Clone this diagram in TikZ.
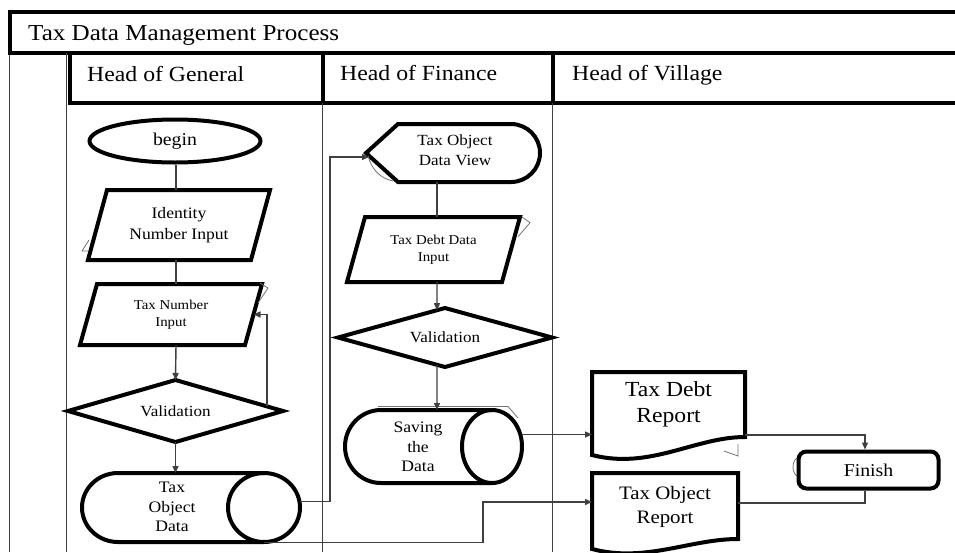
\documentclass[tikz,border=0pt]{standalone}
\usepackage{fontspec}
\setmainfont{Liberation Serif}[FakeStretch=1.1]
\usetikzlibrary{calc,shapes.geometric,arrows.meta}
\newcommand\paragram[2]{\draw[shp] ($(#1.north west)+(#2,0)$) -- ($(#1.north east)+(#2,0)$) -- ($(#1.south east)+(-#2,0)$) -- ($(#1.south west)+(-#2,0)$) -- cycle;}
\begin{document}
\begin{tikzpicture}[x=1pt,y=-1pt,
  shp/.style={draw=black,line width=4pt,line join=miter},
  frm/.style={draw=black,line width=4pt},
  lane/.style={draw=black!75,line width=1.6pt},
  conn/.style={draw=black!75,line width=1.4pt},
  arr/.style={conn,-{Triangle[length=7pt,width=6pt]}},
  art/.style={draw=black!55,line width=0.8pt},
  anc/.style={draw=none,inner sep=0pt,outer sep=0pt,rectangle,align=center},
  txt/.style={inner sep=0pt,align=center},
  hfont/.style={font=\fontsize{21.6}{26}\selectfont}]
\useasboundingbox (0,0) rectangle (955,552);
\fill[white] (0,0) rectangle (955,552);
% frame
\draw[frm] (8,12) -- (955,12);
\draw[frm] (10,10) -- (10,54);
\draw[lane] (9.5,54) -- (9.5,552);
\draw[frm] (8,52.5) -- (955,52.5);
\draw[lane] (66.5,52.5) -- (66.5,552);
\draw[frm] (69.5,52.5) -- (69.5,103);
\draw[frm] (67.5,103) -- (955,103);
\draw[frm] (322.5,52.5) -- (322.5,103);
\draw[lane] (322.5,103) -- (322.5,552);
\draw[frm] (552.5,52.5) -- (552.5,103);
\draw[lane] (552.5,103) -- (552.5,552);
% titles
\node[anchor=base west,inner sep=0pt,font=\fontsize{22.8}{27}\selectfont] (title) at (28,40) {Tax Data Management Process};
\node[anchor=base west,inner sep=0pt,hfont] (hg) at (87,81) {Head of General};
\node[anchor=base west,inner sep=0pt,hfont] (hf) at (340,80) {Head of Finance};
\node[anchor=base west,inner sep=0pt,hfont] (hv) at (572,80) {Head of Village};
% columns
\coordinate (c1) at (176,0);
\coordinate (c2) at (437,0);
\coordinate (c3) at (865,0);
% begin
\node[ellipse,shp,minimum width=171pt,minimum height=43pt,inner sep=0pt,font=\fontsize{18}{22}\selectfont] (begin) at (175,141) {begin};
% identity
\node[anc,minimum width=163pt,minimum height=70pt,font=\fontsize{16}{21}\selectfont] (idn) at (179,225) {Identity\\Number Input};
\paragram{idn}{9.5}
\draw[art] (89,240) -- (82,251) -- (88,251);
% tax number
\node[anc,minimum width=165pt,minimum height=61pt,font=\fontsize{13.5}{17}\selectfont] (tni) at (171,314.5) {Tax Number\\Input};
\paragram{tni}{8.5}
\draw[art] (260,283) -- (268,288) -- (258,303);
% validation 1
\node[anc,minimum width=215pt,minimum height=62pt,font=\fontsize{15.5}{19}\selectfont] (val1) at (175.5,411) {Validation};
\draw[shp] (val1.north) -- (val1.east) -- (val1.south) -- (val1.west) -- cycle;
% tax object data
\node[anc,minimum width=218pt,minimum height=69pt] (tod) at (191,507.5) {};
\draw[shp] (264,473) -- (118,473) arc[start angle=90,end angle=270,x radius=36pt,y radius=34.5pt] -- (264,542);
\draw[shp] (264,507.5) ellipse[x radius=36pt,y radius=34.5pt];
\node[txt,font=\fontsize{16}{19.5}\selectfont] (todt) at (172,507) {Tax\\Object\\Data};
% connectors lane 1
\draw[conn] (c1 |- begin.south) -- (c1 |- idn.north);
\draw[conn] (c1 |- idn.south) -- (c1 |- tni.north);
\draw[arr] (c1 |- tni.south) -- (val1.north);
\draw[arr] ($(val1.north)!0.85!(val1.east)$) |- (tni.east);
\draw[arr] (val1.south) -- (val1.south |- tod.north);
% tax object data view
\node[anc,minimum width=174pt,minimum height=58pt] (tdv) at (453,153) {};
\draw[shp] (tdv.west) -- (398,124) -- (511,124) arc[start angle=90,end angle=-90,radius=29pt] -- (398,182) -- cycle;
\draw[art] (368,156) .. controls (372,170) and (380,178) .. (393,181);
\node[txt,font=\fontsize{15.5}{20}\selectfont] (tdvt) at (455,150) {Tax Object\\Data View};
% tax debt data input
\node[anc,minimum width=155pt,minimum height=65pt,font=\fontsize{13.5}{17}\selectfont] (tdd) at (433.5,249.5) {Tax Debt Data\\Input};
\paragram{tdd}{9}
\draw[art] (521.7,216.7) -- (530,222.7) -- (518,236.7);
% validation 2
\node[anc,minimum width=214pt,minimum height=59pt,font=\fontsize{15.5}{19}\selectfont] (val2) at (445,337.5) {Validation};
\draw[shp] (val2.north) -- (val2.east) -- (val2.south) -- (val2.west) -- cycle;
% saving the data
\node[anc,minimum width=177pt,minimum height=73pt] (std) at (433.5,446.5) {};
\draw[art] (378,406.5) -- (508,406.5) -- (518,418);
\draw[shp] (492,410) -- (381,410) arc[start angle=90,end angle=270,x radius=36pt,y radius=36.5pt] -- (492,483);
\draw[shp] (492,446.5) ellipse[x radius=30pt,y radius=36.5pt];
\node[txt,font=\fontsize{16}{19.5}\selectfont] (stdt) at (418,447) {Saving\\the\\Data};
% connectors lane 2
\draw[conn] (c2 |- tdv.south) -- (c2 |- tdd.north);
\draw[arr] (c2 |- tdd.south) -- ($(val2.north)!0.075!(val2.west)$);
\draw[arr] ($(val2.south)!0.075!(val2.west)$) -- (c2 |- std.north);
\coordinate (s0) at ($(tod.east)+(0,-6)$);
\coordinate (s0b) at ($(tdv.west)+(3,4)$);
\draw[arr] (s0) -- ++(30,0) |- (s0b);
% reports
\node[anc,minimum width=153pt,minimum height=65pt,font=\fontsize{21.5}{26}\selectfont] (tdr) at (668.5,404.5) {Tax Debt\\Report};
\draw[art] (738,444) -- (738,456) -- (724,451);
\draw[shp] (592,455) -- (592,372) -- (745,372) -- (745,437) .. controls (695,437) and (650,470) .. (592,455) -- cycle;
\node[anc,minimum width=146pt,minimum height=67pt,font=\fontsize{19}{24}\selectfont] (tor) at (665,506.5) {Tax Object\\Report};
\draw[shp] (592,549) -- (592,473) -- (738,473) -- (738,539) .. controls (690,539) and (645,563) .. (592,549) -- cycle;
% finish
\draw[art] (798,458) arc[start angle=90,end angle=270,x radius=5pt,y radius=9pt];
\node[draw,line width=4pt,rounded corners=8pt,minimum width=140pt,minimum height=37pt,font=\fontsize{18}{22}\selectfont] (fin) at (868.5,470) {Finish};
% connectors lane 3
\coordinate (s1) at ($(std.east)+(0,-12)$);
\draw[arr] (s1) -- (s1 -| tdr.west);
\coordinate (t1) at ($(tdr.south east)+(0,-2)$);
\draw[arr] (t1) -| (c3 |- fin.north);
\coordinate (t2) at ($(tor.east)+(0,-3.5)$);
\draw[conn] (t2) -| (c3 |- fin.south);
\coordinate (t3) at ($(tod.south east)+(-36,0.5)$);
\coordinate (t4) at ($(tor.west)+(0,-4.5)$);
\draw[arr] (t3) -- ++(219,0) |- (t4);
\end{tikzpicture}
\end{document}
